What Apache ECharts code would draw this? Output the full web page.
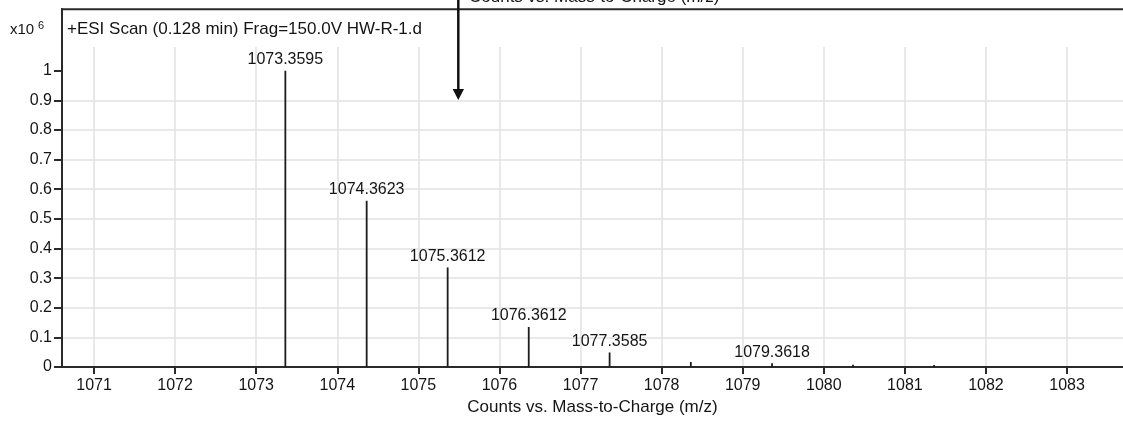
<!DOCTYPE html>
<html>
<head>
<meta charset="utf-8">
<script src="https://cdn.jsdelivr.net/npm/echarts@6/dist/echarts.min.js"></script>
<style>
html,body{margin:0;padding:0;background:#fff;}
#chart{width:1123px;height:422px;}
</style>
</head>
<body>
<div id="chart"></div>
<script>
// Data (intensity in units of 10^6 counts)
const mzValues = [1073.3595, 1074.3623, 1075.3612, 1076.3612, 1077.3585, 1078.36, 1079.3618, 1080.36, 1081.36];
const intensities = [1.0, 0.561, 0.336, 0.135, 0.049, 0.017, 0.0125, 0.008, 0.007];
const peakLabels = ['1073.3595', '1074.3623', '1075.3612', '1076.3612', '1077.3585', '', '1079.3618', '', ''];
const xTicks = [1071, 1072, 1073, 1074, 1075, 1076, 1077, 1078, 1079, 1080, 1081, 1082, 1083];
const yTicks = [0, 0.1, 0.2, 0.3, 0.4, 0.5, 0.6, 0.7, 0.8, 0.9, 1];
const headerText = '+ESI Scan (0.128 min) Frag=150.0V HW-R-1.d';
const xTitle = 'Counts vs. Mass-to-Charge (m/z)';

const FONT = "'Liberation Sans', Arial, sans-serif";
const TXT = '#141414';
const AX = '#2a2a2a';

const chart = echarts.init(document.getElementById('chart'), null, {renderer: 'canvas'});
const seriesData = mzValues.map((m, i) => [m, intensities[i]]);

chart.setOption({
  animation: false,
  backgroundColor: '#fff',
  grid: {left: 62, right: 0, top: 47, bottom: 55, containLabel: false},
  xAxis: {
    type: 'value',
    min: 1070.605,
    max: 1083.69,
    name: xTitle,
    nameLocation: 'middle',
    nameGap: 32,
    nameTextStyle: {fontSize: 17, color: TXT, fontFamily: FONT},
    axisLine: {show: true, onZero: false, lineStyle: {color: AX, width: 2}},
    axisTick: {show: true, length: 7, customValues: xTicks, lineStyle: {color: AX, width: 2}},
    axisLabel: {show: true, margin: 11, fontSize: 16, color: TXT, fontFamily: FONT, customValues: xTicks,
      formatter: v => String(v)},
    splitLine: {show: true, lineStyle: {color: '#e2e2e2', width: 1.5}}
  },
  yAxis: {
    type: 'value',
    min: 0,
    max: 1.08,
    axisLine: {show: true, onZero: false, lineStyle: {color: AX, width: 2}},
    axisTick: {show: true, length: 8, customValues: yTicks, lineStyle: {color: AX, width: 2}},
    axisLabel: {show: true, margin: 10, fontSize: 16, color: TXT, fontFamily: FONT, customValues: yTicks,
      formatter: v => String(v)},
    splitLine: {show: true, showMaxLine: false, lineStyle: {color: '#e2e2e2', width: 1.5}}
  },
  series: [{
    type: 'bar',
    data: seriesData,
    barWidth: 1.8,
    itemStyle: {color: '#1c1c1c'},
    label: {
      show: true,
      position: 'top',
      distance: 3,
      fontSize: 16,
      lineHeight: 16,
      color: TXT,
      fontFamily: FONT,
      formatter: p => peakLabels[p.dataIndex]
    }
  }],
  graphic: [
    // frame top line and upper part of left frame
    {type: 'line', shape: {x1: 61, y1: 9.3, x2: 1123, y2: 9.3}, style: {stroke: AX, lineWidth: 2}, silent: true},
    {type: 'line', shape: {x1: 62, y1: 8.3, x2: 62, y2: 48}, style: {stroke: AX, lineWidth: 2}, silent: true},
    // header
    {type: 'text', x: 67, y: 29.5, style: {text: headerText, fontSize: 17, fill: TXT, fontFamily: FONT, verticalAlign: 'middle', align: 'left'}, silent: true},
    {type: 'text', x: 10, y: 30, style: {text: 'x10', fontSize: 15, fill: TXT, fontFamily: FONT, verticalAlign: 'middle', align: 'left'}, silent: true},
    {type: 'text', x: 38, y: 26, style: {text: '6', fontSize: 11, fill: TXT, fontFamily: FONT, verticalAlign: 'middle', align: 'left'}, silent: true},
    // title of the chart above (cut off)
    {type: 'text', x: 469, y: -3, style: {text: xTitle, fontSize: 17, fill: TXT, fontFamily: FONT, verticalAlign: 'middle', align: 'left'}, silent: true},
    // annotation arrow
    {type: 'line', shape: {x1: 458.3, y1: 0, x2: 458.3, y2: 91}, style: {stroke: '#111', lineWidth: 2.5}, silent: true},
    {type: 'polygon', shape: {points: [[452.6, 89], [464, 89], [458.3, 100]]}, style: {fill: '#111'}, silent: true}
  ]
});
</script>
</body>
</html>
